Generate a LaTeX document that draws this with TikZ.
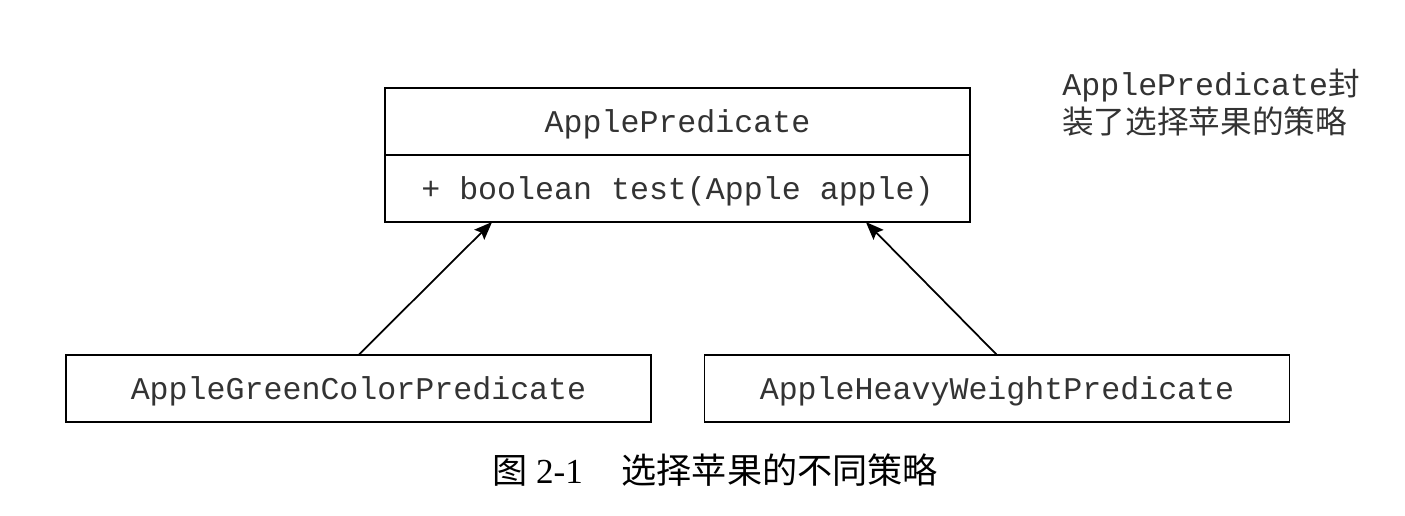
\documentclass[tikz,border=0pt]{standalone}
\usepackage{fontspec}
\setmainfont{Liberation Serif}
\setmonofont{Liberation Mono}
\newfontfamily\cjk{Noto Sans CJK SC}
\usepackage{tikz}
\usetikzlibrary{calc,arrows.meta,positioning}

\begin{document}
\begin{tikzpicture}[x=0.02cm,y=-0.02cm,
		classbox/.style={draw,line width=1pt,minimum width=11.7cm,minimum height=1.34cm,
			inner sep=0pt,outer sep=0pt,text height=16.5pt,text depth=3.6pt,
			font=\ttfamily\fontsize{18}{20}\selectfont,text=black!80},
		arrow/.style={line width=1pt,-{Stealth[length=3.6mm,width=2.8mm,inset=0.6mm]}}]
			\useasboundingbox (0,0) rectangle (1405,515);
			
			\node[classbox] (pred) at (677.5,121.5) {ApplePredicate};
			\node[classbox,below=0pt of pred] (test) {+ boolean test(Apple apple)};
			
			\node[classbox] (green) at (358.5,388.5) {AppleGreenColorPredicate};
			\node[classbox] (heavy) at (997,388.5) {AppleHeavyWeightPredicate};
			
			\coordinate (tl) at ($(test.south west)!0.183!(test.south east)$);
			\coordinate (tr) at ($(test.south west)!0.822!(test.south east)$);
			\draw[arrow] (green.north) -- (tl);
			\draw[arrow] (heavy.north) -- (tr);
			
			\node[anchor=base west,inner sep=0pt,font=\fontsize{18}{20}\selectfont,text=black!80] (note1) at (1062,95)
				{\ttfamily ApplePredicate\cjk 封};
			\node[anchor=base west,inner sep=0pt,font=\fontsize{18}{20}\selectfont,text=black!80] (note2) at (1062,133)
				{\cjk 装了选择苹果的策略};
			
			\node[inner sep=0pt,font=\fontsize{20}{24}\selectfont] (caption) at (715,470)
				{{\cjk 图} 2-1\hspace{1.1em}{\cjk 选择苹果的不同策略}};
		\end{tikzpicture}
\end{document}
